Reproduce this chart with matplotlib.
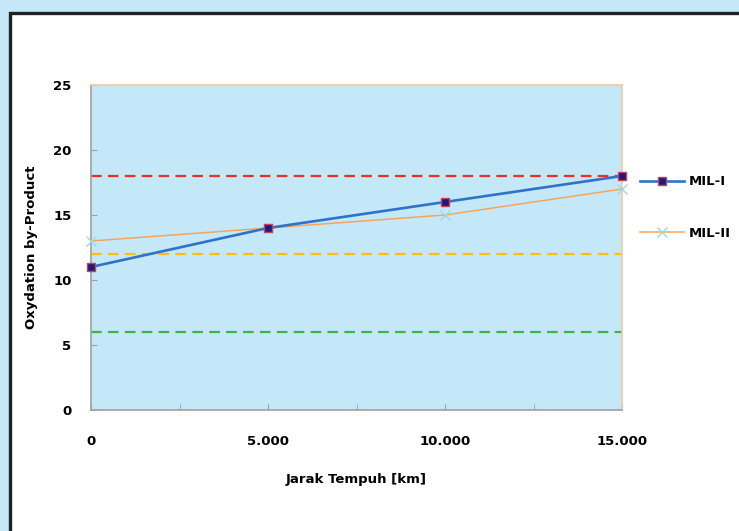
import matplotlib.pyplot as plt
from matplotlib.patches import Rectangle
from matplotlib.ticker import FuncFormatter, MultipleLocator

# jarak tempuh (km) dan hasil oksidasi
jarak = [0, 5000, 10000, 15000]
mil_1 = [11, 14, 16, 18]
mil_2 = [13, 14, 15, 17]

# batas acuan (garis putus-putus)
batas_atas = 18
batas_tengah = 12
batas_bawah = 6

bg = "#c5e8f8"
plt.rcParams["font.family"] = ["DejaVu Sans"]
plt.rcParams["font.weight"] = "bold"
fs = 9.5

fig = plt.figure(figsize=(7.39, 5.31), dpi=100, facecolor=bg)

# kotak putih dengan bingkai hitam
fig.patches.append(Rectangle((10 / 739, -0.1), 1.2, 1.1 - 13 / 531,
                             transform=fig.transFigure, facecolor="white",
                             edgecolor="#222222", linewidth=2.4, zorder=-10))

ax = fig.add_axes([91 / 739, 1 - 410 / 531, 531 / 739, 325 / 531])
ax.set_facecolor(bg)

dash = (4.8, 2.8)
ax.axhline(batas_atas, color="#e8302a", lw=1.6, dashes=dash)
ax.axhline(batas_tengah, color="#ffc000", lw=1.6, dashes=dash)
ax.axhline(batas_bawah, color="#3cb44a", lw=1.6, dashes=dash)

ax.plot(jarak, mil_1, color="#2f72c8", lw=1.9, marker="s", ms=5.5,
        mfc="#1f1a7a", mec="#c8405a", mew=1.0, label="MIL-I", clip_on=False, zorder=4)
ax.plot(jarak, mil_2, color="#f5a55a", lw=1.1, marker="x", ms=7,
        mec="#9fd8e0", mew=1.0, label="MIL-II", clip_on=False, zorder=3)

ax.set_xlim(0, 15000)
ax.set_ylim(0, 25)
ax.xaxis.set_major_locator(MultipleLocator(5000))
ax.xaxis.set_minor_locator(MultipleLocator(2500))
ax.yaxis.set_major_locator(MultipleLocator(5))
ax.xaxis.set_major_formatter(FuncFormatter(lambda v, p: f"{int(v):,}".replace(",", ".")))

ax.tick_params(axis="x", which="both", direction="in", length=4, color="#a0a0a0",
               pad=18, labelsize=fs)
ax.tick_params(axis="y", direction="in", length=4, color="#a0a0a0",
               pad=14, labelsize=fs)

for s in ("left", "bottom"):
    ax.spines[s].set_color("#a0a0a0")
for s in ("top", "right"):
    ax.spines[s].set_color("#f5c8a0")
for s in ax.spines.values():
    s.set_linewidth(1.2)

ax.set_xlabel("Jarak Tempuh [km]", fontsize=fs, fontweight="bold", labelpad=18)
ax.set_ylabel("Oxydation by-Product", fontsize=fs, fontweight="bold", labelpad=11)

ax.legend(loc="upper left", bbox_to_anchor=(1.0245, 0.738), frameon=False,
          borderaxespad=0, fontsize=fs, handlelength=3.3, labelspacing=2.9,
          handletextpad=0.4)

fig.savefig("out.png", dpi=100, facecolor=bg)
